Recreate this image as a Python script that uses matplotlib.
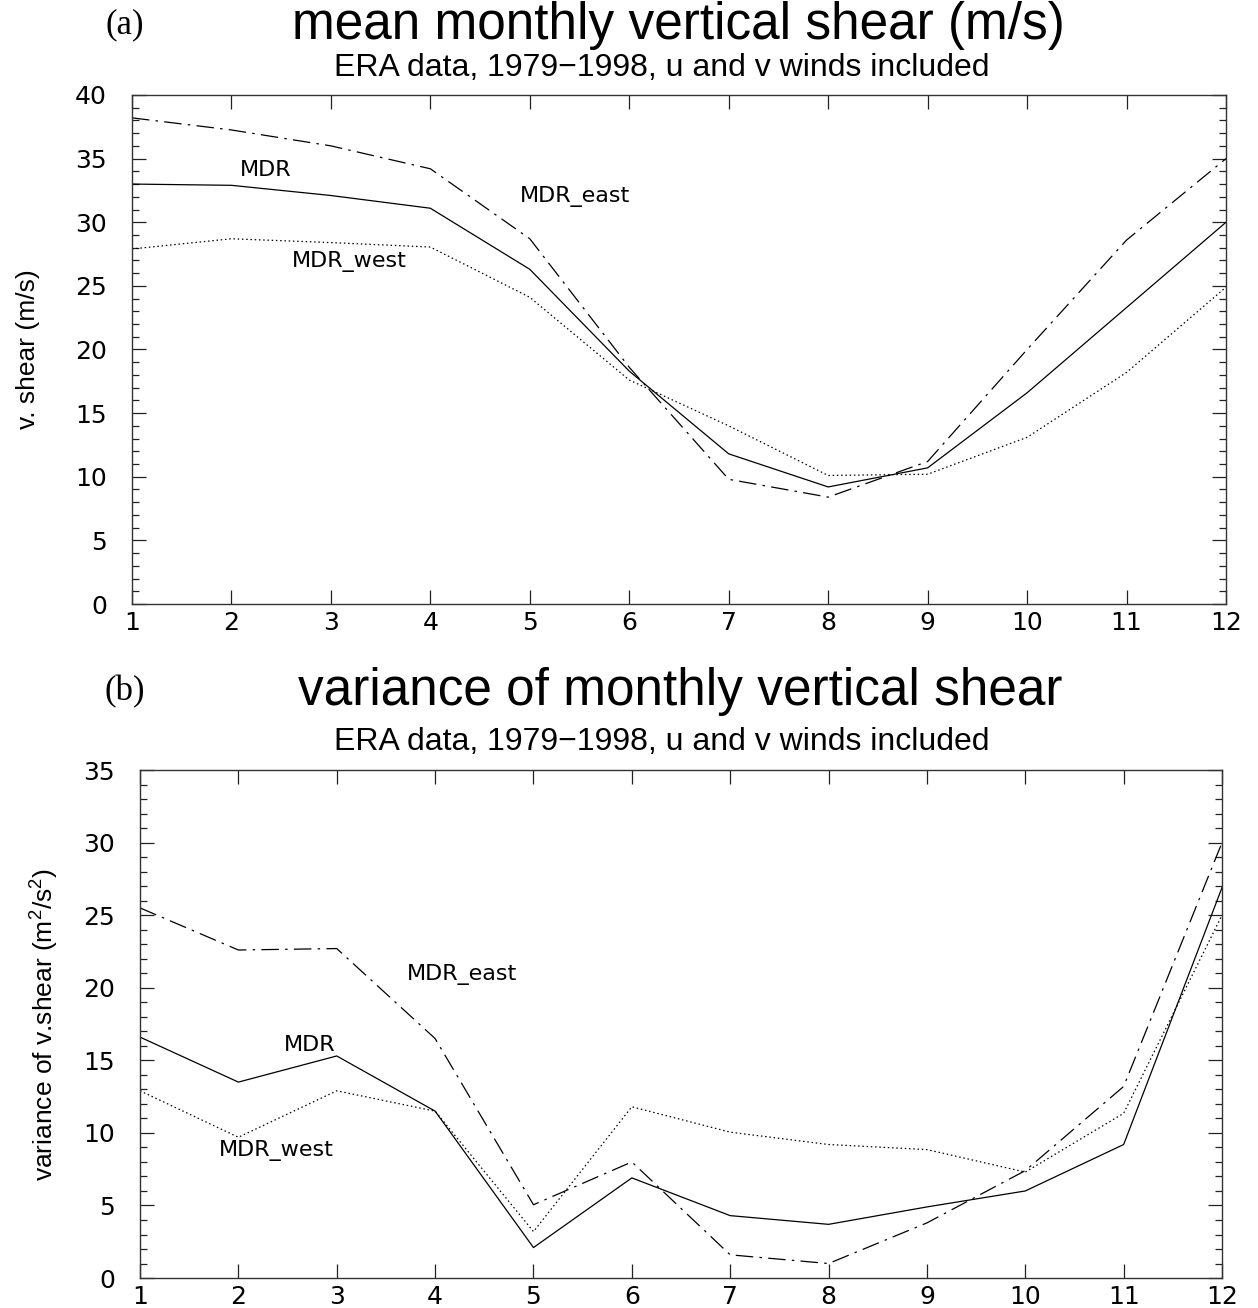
import matplotlib
matplotlib.use("Agg")
import matplotlib.pyplot as plt
from matplotlib.ticker import MultipleLocator

months = list(range(1, 13))

# (a) mean monthly vertical shear (m/s)
mean_mdr = [33.0, 32.9, 32.1, 31.1, 26.3, 18.3, 11.8, 9.2, 10.7, 16.6, 23.3, 30.0]
mean_east = [38.2, 37.25, 36.0, 34.2, 28.7, 18.6, 9.8, 8.4, 11.2, 20.0, 28.6, 35.0]
mean_west = [27.9, 28.7, 28.4, 28.05, 24.1, 17.6, 14.0, 10.1, 10.2, 13.1, 18.2, 24.9]

# (b) variance of monthly vertical shear (m2/s2)
var_mdr = [16.6, 13.5, 15.3, 11.5, 2.1, 6.9, 4.3, 3.7, 4.9, 6.0, 9.2, 26.9]
var_east = [25.5, 22.6, 22.7, 16.5, 5.05, 8.0, 1.6, 1.0, 3.8, 7.4, 13.2, 30.0]
var_west = [12.9, 9.7, 12.9, 11.5, 3.2, 11.8, 10.05, 9.2, 8.85, 7.3, 11.35, 25.0]

plt.rcParams['mathtext.default'] = 'regular'
sans = ['Liberation Sans', 'DejaVu Sans']
serif = ['Liberation Serif', 'DejaVu Serif']

fig = plt.figure(figsize=(12.58, 13.08), dpi=100)

def setup(ax, ymax):
    ax.set_xlim(1, 12)
    ax.set_ylim(0, ymax)
    ax.xaxis.set_major_locator(MultipleLocator(1))
    ax.yaxis.set_major_locator(MultipleLocator(5))
    ax.yaxis.set_minor_locator(MultipleLocator(1))
    ax.tick_params(which='both', direction='in', top=True, right=True,
                   width=0.9, colors='#222222', labelcolor='black')
    ax.tick_params(which='major', length=10, labelsize=18)
    ax.tick_params(which='minor', length=5)
    ax.tick_params(axis='x', which='major', pad=5)
    ax.tick_params(axis='y', which='major', pad=18)
    ax.tick_params(axis='x', which='minor', length=0)
    for s in ax.spines.values():
        s.set_linewidth(1.0)
        s.set_color('#333333')

def draw(ax, mdr, east, west):
    ax.plot(months, mdr, color='black', lw=0.9, ls='-')
    ax.plot(months, east, color='black', lw=0.9, ls=(0, (14, 5, 2, 5)))
    ax.plot(months, west, color='black', lw=0.9, ls=(0, (1.2, 2.2)))

# panel (a)
ax1 = fig.add_axes([0.1049, 0.5382, 0.8697, 0.3892])
draw(ax1, mean_mdr, mean_east, mean_west)
setup(ax1, 40)
ax1.set_ylabel('v. shear (m/s)', family=sans, fontsize=19, va='center')
ax1.yaxis.set_label_coords(-0.095, 0.5)
ax1.text(2.34, 34.1, 'MDR', ha='center', va='center', fontsize=16)
ax1.text(5.45, 32.0, 'MDR_east', ha='center', va='center', fontsize=16)
ax1.text(3.19, 26.9, 'MDR_west', ha='center', va='center', fontsize=16)

fig.text(125 / 1258, 1 - 25 / 1308, '(a)', family=serif, fontsize=25,
         ha='center', va='center')
fig.text(678 / 1258, 1 - 25 / 1308, 'mean monthly vertical shear (m/s)',
         family=sans, fontsize=37, ha='center', va='center')
fig.text(662 / 1258, 1 - 68 / 1308, 'ERA data, 1979\u22121998, u and v winds included',
         family=sans, fontsize=23, ha='center', va='center')

# panel (b)
ax2 = fig.add_axes([0.1113, 0.0229, 0.8601, 0.3884])
draw(ax2, var_mdr, var_east, var_west)
setup(ax2, 35)
ax2.set_ylabel('variance of v.shear (m$^{2}$/s$^{2}$)', family=sans,
               fontsize=19, va='center')
ax2.yaxis.set_label_coords(-0.088, 0.5)
ax2.text(4.27, 20.9, 'MDR_east', ha='center', va='center', fontsize=16)
ax2.text(2.73, 16.05, 'MDR', ha='center', va='center', fontsize=16)
ax2.text(2.39, 8.8, 'MDR_west', ha='center', va='center', fontsize=16)

fig.text(125 / 1258, 1 - 692 / 1308, '(b)', family=serif, fontsize=25,
         ha='center', va='center')
fig.text(680 / 1258, 1 - 692 / 1308, 'variance of monthly vertical shear',
         family=sans, fontsize=37, ha='center', va='center')
fig.text(662 / 1258, 1 - 742 / 1308, 'ERA data, 1979\u22121998, u and v winds included',
         family=sans, fontsize=23, ha='center', va='center')

fig.savefig('out.png', dpi=100, facecolor='white')
